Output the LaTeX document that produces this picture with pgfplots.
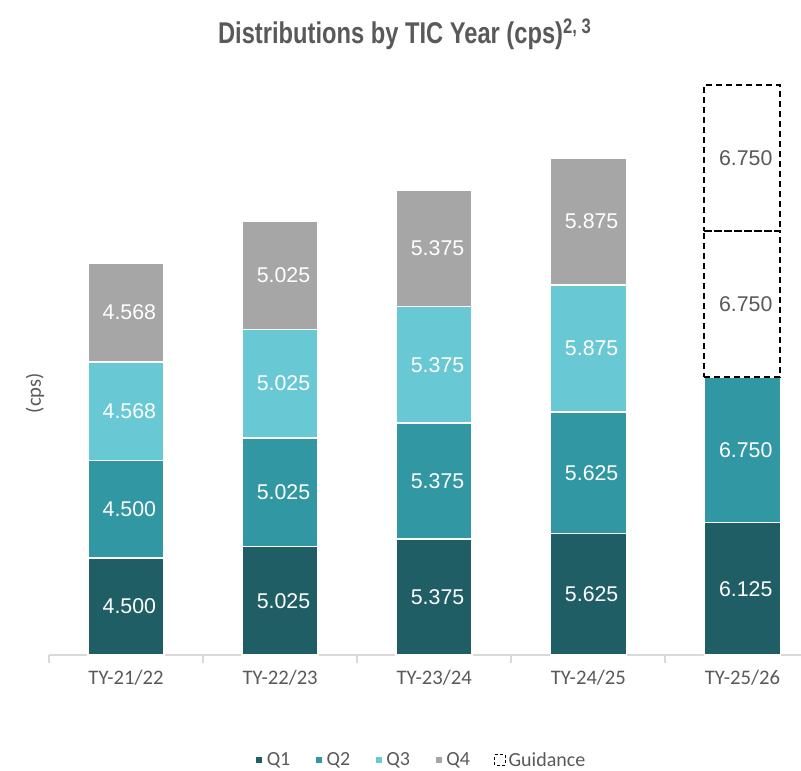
\documentclass[border=0pt]{standalone}
\usepackage{fontspec}
\setmainfont{Liberation Sans}
\newfontfamily\carlito{Carlito}
\usepackage{pgfplots}
\usepackage{pgfplotstable}
\pgfplotsset{compat=1.18}
\definecolor{cQone}{RGB}{31,94,101}
\definecolor{cQtwo}{RGB}{49,151,163}
\definecolor{cQthree}{RGB}{104,200,211}
\definecolor{cQfour}{RGB}{166,166,166}
\definecolor{textgray}{RGB}{89,89,89}
\definecolor{axisgray}{RGB}{217,217,217}

\pgfplotstableread{
x y
0 4.500
1 5.025
2 5.375
3 5.625
4 6.125
}\qone
\pgfplotstableread{
x y
0 4.500
1 5.025
2 5.375
3 5.625
4 6.750
}\qtwo
\pgfplotstableread{
x y
0 4.568
1 5.025
2 5.375
3 5.875
}\qthree
\pgfplotstableread{
x y
0 4.568
1 5.025
2 5.375
3 5.875
}\qfour
\pgfplotstableread{
x y
4 6.125
}\gone
\pgfplotstableread{
x y
4 6.750
}\gtwo
\pgfplotstableread{
x y
4 6.750
}\gthree
\pgfplotstableread{
x y
4 6.750
}\gfour

\pgfplotsset{
  base/.style={
    width=564pt, height=445.5pt, scale only axis,
    xmin=-0.5, xmax=4.38, ymin=0, ymax=27.5,
    ybar stacked, bar width=57pt, clip=false,
  },
  seg/.style={fill=#1, draw=white, line width=1.2pt},
  lbl/.style={
    visualization depends on={rawy \as \segval},
    nodes near coords={\pgfmathprintnumber[fixed,fixed zerofill,precision=3,assume math mode=true]{\segval}},
    every node near coord/.append style={anchor=center,
      xshift=2.5pt, font=\fontsize{16}{19}\selectfont, text=#1},
  },
  guide/.style={fill=none, draw=black, line width=1.5pt, dash pattern=on 4.5pt off 3pt},
}

\begin{document}
\begin{tikzpicture}
\begin{axis}[base, name=ax,
  axis lines*=left,
  y axis line style={draw=none},
  x axis line style={axisgray, line width=1.5pt},
  ytick=\empty,
  xtick={0,1,2,3,4},
  xticklabels={TY-21/22,TY-22/23,TY-23/24,TY-24/25,TY-25/26},
  major tick length=0pt,
  minor xtick={-0.5,0.5,1.5,2.5,3.5},
  minor tick length=6pt,
  tick align=outside,
  minor x tick style={axisgray, line width=1.5pt},
  xticklabel style={font=\carlito\fontsize{15.5}{18}\selectfont, text=textgray, yshift=-7.5pt},
  title={\scalebox{0.79}[1]{\bfseries\fontsize{22.5}{27}\selectfont Distributions by TIC Year (cps)\textsuperscript{2, 3}}},
  title style={at={(axis description cs:0.473,1.032)}, anchor=center, text=textgray},
  ylabel={(cps)},
  ylabel style={at={(axis description cs:-0.0186,0.441)}, anchor=center,
    font=\carlito\fontsize{15.5}{18}\selectfont, text=textgray},
  legend style={at={(axis description cs:0.495,-0.177)}, anchor=center, draw=none, fill=none,
    font=\carlito\fontsize{15}{18}\selectfont, text=textgray,
    /tikz/every even column/.append style={column sep=16pt}},
  legend columns=-1,
  legend image code/.code={\fill[#1] (0pt,-3pt) rectangle (6pt,3pt);},
]
\addplot[seg=cQone, lbl=white] table[x=x,y=y] {\qone}; \addlegendentry{Q1}
\addplot[seg=cQtwo, lbl=white] table[x=x,y=y] {\qtwo}; \addlegendentry{Q2}
\addplot[seg=cQthree, lbl=white] table[x=x,y=y] {\qthree}; \addlegendentry{Q3}
\addplot[seg=cQfour, lbl=white] table[x=x,y=y] {\qfour}; \addlegendentry{Q4}
\addlegendimage{legend image code/.code={\draw[black, line width=1pt, dash pattern=on 2.5pt off 1.5pt] (0pt,-4pt) rectangle (8pt,4pt);}}
\addlegendentry{Guidance}
\end{axis}
\begin{axis}[base, hide axis]
\addplot[draw=none, fill=none] table[x=x,y=y] {\gone};
\addplot[draw=none, fill=none] table[x=x,y=y] {\gtwo};
\addplot[guide, lbl=textgray] table[x=x,y=y] {\gthree};
\addplot[guide, lbl=textgray] table[x=x,y=y] {\gfour};
\end{axis}
\pgfresetboundingbox
\path ([shift={(-36.75pt,-87pt)}]ax.south west) rectangle ([shift={(564pt,491.25pt)}]ax.south west);
\end{tikzpicture}
\end{document}
